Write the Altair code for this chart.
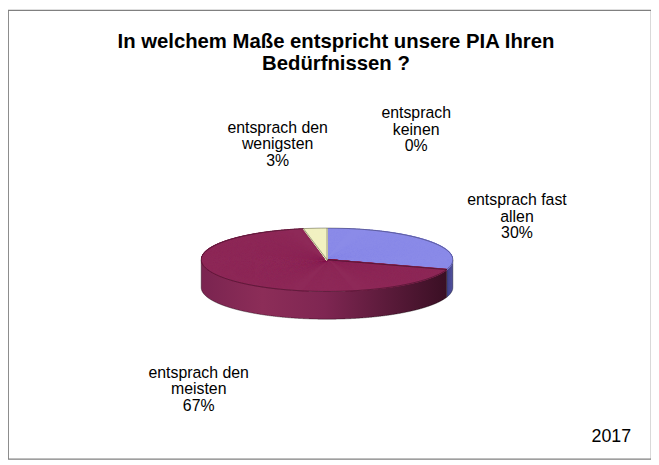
import altair as alt
import pandas as pd

# ---------------- data ----------------
categories = ["entsprach fast allen", "entsprach den meisten",
              "entsprach den wenigsten", "entsprach keinen"]
values = [30, 67, 3, 0]
label_first = ["entsprach fast", "entsprach den", "entsprach den", "entsprach"]
label_second = ["allen", "meisten", "wenigsten", "keinen"]
title_lines = ["In welchem Maße entspricht unsere PIA Ihren", "Bedürfnissen ?"]
year_text = "2017"

# ---------------- layout / style ----------------
W, H = 649, 453
CX, CY = 322, 252          # centre of the pie top
RX, RY = 127, 32           # ellipse radii of the tilted pie
DEPTH = 28                 # thickness of the pie
N = 2000                   # angular samples per full turn
LRX, LRY = 190, 130        # radial distance of the labels
FONT = "Liberation Sans"

top_colors = ["#8b8be8", "#8e2958", "#f1f1c2", "#ccffff"]
side_gradients = [
    ["#3e3e86", "#52529e"],
    ["#7a2450", "#8c2d58", "#7f2652", "#5c1b3b", "#3a0f24"],
    ["#b8b890", "#d8d8a8"],
    ["#88aaaa", "#aacccc"],
]
# Excel "best fit" offsets of the labels from the radial position
nudge_x = [38, 13, -32, 90]
nudge_y = [21, 5, 1, -13]

df = pd.DataFrame({
    "cat": categories,
    "value": values,
    "order": list(range(len(categories))),
    "l1": label_first,
    "l2": label_second,
})

xs = alt.Scale(domain=[0, W], nice=False, zero=False)
ys = alt.Scale(domain=[0, H], nice=False, zero=False, reverse=True)
col = alt.Scale(domain=categories, range=top_colors)

base = (
    alt.Chart(df)
    .transform_joinaggregate(total="sum(value)")
    .transform_window(cum="sum(value)", sort=[alt.SortField("order")], frame=[None, 0])
    .transform_calculate(
        start="(datum.cum - datum.value) / datum.total",
        end="datum.cum / datum.total",
        pct="datum.value / datum.total * 100",
    )
)

samples = (
    base.transform_filter("datum.value > 0")
    .transform_calculate(step=f"sequence(round(datum.start * {N}), round(datum.end * {N}) + 1)")
    .transform_flatten(["step"])
    .transform_calculate(
        theta=f"datum.step / {N} * 2 * PI",
        xr=f"{CX} + {RX} * sin(datum.theta)",
        yr=f"{CY} - {RY} * cos(datum.theta)",
        yb=f"datum.yr + {DEPTH}",
        cx=f"{CX}",
        cy=f"{CY}",
    )
)
front = samples.transform_filter("cos(datum.theta) <= 0.0001")

X = lambda f: alt.X(f, scale=xs, axis=None)
Y = lambda f: alt.Y(f, scale=ys, axis=None)

layers = []

# side wall, one area per slice with its own shading
for i, c in enumerate(categories):
    stops = side_gradients[i]
    grad = alt.Gradient(
        gradient="linear", x1=0, x2=1, y1=0, y2=0,
        stops=[alt.GradientStop(color=s, offset=k / (len(stops) - 1)) for k, s in enumerate(stops)],
    )
    layers.append(
        front.transform_filter(alt.datum.cat == c)
        .mark_area(color=grad)
        .encode(x=X("xr:Q"), y=Y("yr:Q"), y2="yb:Q")
    )

# bottom edge of the side wall
layers.append(
    front.mark_line(color="#000000", opacity=0.45, strokeWidth=0.8)
    .encode(x=X("xr:Q"), y=Y("yb:Q"), detail="cat:N", order="step:Q")
)
# vertical edges of the side wall
layers.append(
    samples.transform_filter(
        f"(datum.step == round(datum.start * {N}) && cos(datum.theta) <= 0) || "
        f"datum.step == {N // 4} || datum.step == {3 * N // 4}"
    )
    .mark_rule(color="#000000", opacity=0.45, strokeWidth=0.8)
    .encode(x=X("xr:Q"), y=Y("yr:Q"), y2="yb:Q")
)

# top surface of the pie
layers.append(
    samples.mark_rule(strokeWidth=1.6, strokeCap="butt")
    .encode(x=X("cx:Q"), y=Y("cy:Q"), x2="xr:Q", y2="yr:Q",
            color=alt.Color("cat:N", scale=col, legend=None))
)
# rim outline
layers.append(
    samples.mark_line(color="#000000", opacity=0.45, strokeWidth=0.8)
    .encode(x=X("xr:Q"), y=Y("yr:Q"), detail="cat:N", order="step:Q")
)
# radial slice edges
layers.append(
    samples.transform_filter(f"datum.step == round(datum.start * {N})")
    .mark_rule(color="#000000", opacity=0.45, strokeWidth=0.8)
    .encode(x=X("cx:Q"), y=Y("cy:Q"), x2="xr:Q", y2="yr:Q")
)

# slice labels
labels = (
    base.transform_calculate(
        mid="(datum.start + datum.end) * PI",
        lx=f"{CX} + {LRX} * sin(datum.mid) + {nudge_x}[datum.order]",
        ly=f"{CY} - {LRY} * cos(datum.mid) + (cos(datum.mid) < 0 ? {DEPTH} : 0) + {nudge_y}[datum.order]",
        txt="[datum.l1, datum.l2, format(datum.pct, '.0f') + '%']",
    )
    .mark_text(font=FONT, fontSize=16, lineHeight=16.8, align="center",
               baseline="alphabetic", color="#000000")
    .encode(x=X("lx:Q"), y=Y("ly:Q"), text="txt:N")
)
layers.append(labels)

one = pd.DataFrame({"k": [0]})
title = (
    alt.Chart(one)
    .mark_text(text=title_lines, font=FONT, fontSize=20.5, fontWeight="bold",
               lineHeight=22, align="center", baseline="alphabetic", color="#000000")
    .encode(x=alt.value(331), y=alt.value(38))
)
year = (
    alt.Chart(one)
    .mark_text(text=year_text, font=FONT, fontSize=18, align="center",
               baseline="alphabetic", color="#000000")
    .encode(x=alt.value(609), y=alt.value(436))
)
layers += [title, year]

chart = (
    alt.layer(*layers)
    .properties(width=W, height=H, padding=0, autosize=alt.AutoSizeParams(type="none"),
                background="#ffffff")
    .configure_view(stroke="#808080", strokeWidth=1.2)
)

chart.save("out.html", embed_options={"renderer": "svg", "actions": False})
